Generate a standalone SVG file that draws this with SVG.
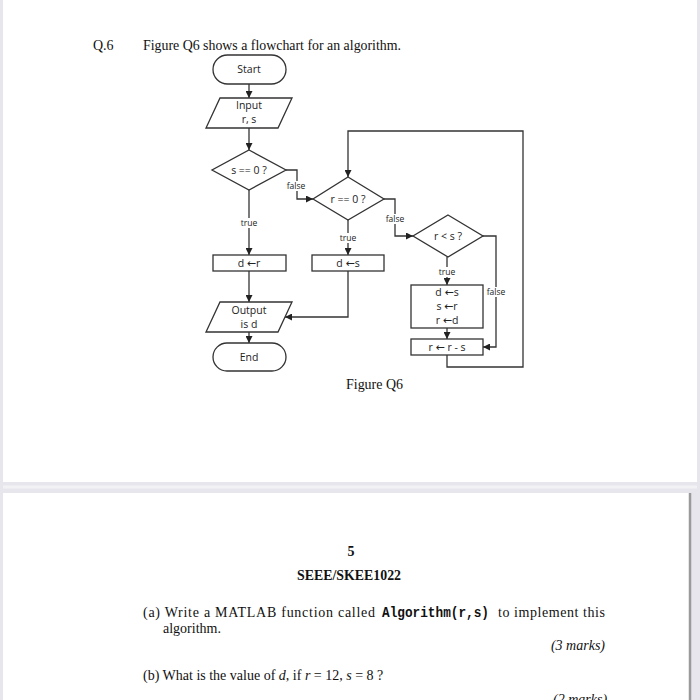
<svg xmlns="http://www.w3.org/2000/svg" width="700" height="700" viewBox="0 0 700 700">
<style>
.ln{fill:none;stroke:#333;stroke-width:1.3}
.sh{fill:#fff;stroke:#333;stroke-width:1.3}
.ft{font-family:"Open Sans","Liberation Sans","DejaVu Sans",sans-serif;font-size:10.5px;fill:#222;text-anchor:middle}
.ar{font-family:"DejaVu Sans",sans-serif;font-size:11px}
.lb{font-family:"Open Sans","Liberation Sans","DejaVu Sans",sans-serif;font-size:8.5px;fill:#222;text-anchor:middle}
.sf{font-family:"Liberation Serif","Times New Roman",serif;font-size:14px;fill:#111}
.mo{font-family:"Liberation Mono","DejaVu Sans Mono",monospace;font-weight:bold}
</style>
<defs>
<marker id="ah" viewBox="0 0 10 10" refX="10" refY="5" markerWidth="7" markerHeight="7" markerUnits="userSpaceOnUse" orient="auto"><path d="M0,0 L10,5 L0,10 z" fill="#222"/></marker>
</defs>
<rect x="0" y="0" width="700" height="700" fill="#e6e6ec"/>
<rect x="3" y="0" width="694" height="482" fill="#fff"/>
<rect x="3" y="493" width="688" height="207" fill="#fff"/>
<line x1="690" y1="493" x2="690" y2="700" stroke="#9a9a9a" stroke-width="2.5"/>
<line x1="3" y1="487" x2="697" y2="487" stroke="#f2f2f5" stroke-width="3"/>

<text class="sf" x="93" y="50">Q.6</text>
<text class="sf" x="143" y="50" textLength="258" lengthAdjust="spacingAndGlyphs">Figure Q6 shows a flowchart for an algorithm.</text>
<text class="sf" x="346" y="389" textLength="57" lengthAdjust="spacingAndGlyphs">Figure Q6</text>

<g id="connectors">
<line class="ln" x1="249" y1="84" x2="249" y2="98" marker-end="url(#ah)"/>
<line class="ln" x1="249" y1="128" x2="249" y2="150" marker-end="url(#ah)"/>
<polyline class="ln" points="286,170 297,170 297,199 313,199" marker-end="url(#ah)"/>
<line class="ln" x1="249" y1="190" x2="249" y2="255" marker-end="url(#ah)"/>
<line class="ln" x1="348" y1="219" x2="348" y2="255" marker-end="url(#ah)"/>
<polyline class="ln" points="384,199 395,199 395,236 413,236" marker-end="url(#ah)"/>
<line class="ln" x1="447" y1="257" x2="447" y2="285" marker-end="url(#ah)"/>
<polyline class="ln" points="483,236 496,236 496,347 483,347" marker-end="url(#ah)"/>
<line class="ln" x1="447" y1="328" x2="447" y2="339" marker-end="url(#ah)"/>
<polyline class="ln" points="447,355 447,367 523,367 523,131 348,131 348,177" marker-end="url(#ah)"/>
<line class="ln" x1="249" y1="271" x2="249" y2="302" marker-end="url(#ah)"/>
<polyline class="ln" points="348,271 348,317 285,317" marker-end="url(#ah)"/>
<line class="ln" x1="249" y1="332" x2="249" y2="343" marker-end="url(#ah)"/>
<rect x="284" y="181" width="24" height="10" fill="#fff"/>
<text class="lb" x="296" y="189">false</text>
<rect x="237" y="218" width="24" height="10" fill="#fff"/>
<text class="lb" x="249" y="226">true</text>
<rect x="336" y="233" width="24" height="10" fill="#fff"/>
<text class="lb" x="348" y="241">true</text>
<rect x="383" y="214" width="24" height="10" fill="#fff"/>
<text class="lb" x="395" y="222">false</text>
<rect x="435" y="267" width="24" height="10" fill="#fff"/>
<text class="lb" x="447" y="275">true</text>
<rect x="484" y="287" width="24" height="10" fill="#fff"/>
<text class="lb" x="496" y="295">false</text>
</g>

<g id="start">
<rect class="sh" x="213" y="55" width="73" height="29" rx="14.5"/>
<text class="ft" x="249" y="73">Start</text>
</g>
<g id="input">
<polygon class="sh" points="220,98 292,98 278,128 206,128"/>
<text class="ft" x="249" y="109">Input</text>
<text class="ft" x="249" y="123">r, s</text>
</g>
<g id="s_eq_0">
<polygon class="sh" points="249,150 286,170 249,190 212,170"/>
<text class="ft" x="249" y="174">s == 0 ?</text>
</g>
<g id="r_eq_0">
<polygon class="sh" points="348,177 384,199 348,220 313,199"/>
<text class="ft" x="348" y="203">r == 0 ?</text>
</g>
<g id="r_lt_s">
<polygon class="sh" points="448,215 483,236 448,257 413,236"/>
<text class="ft" x="448" y="240">r &lt; s ?</text>
</g>
<g id="d_gets_r">
<rect class="sh" x="213" y="255" width="73" height="16"/>
<text class="ft" x="249" y="267">d <tspan class="ar">←</tspan>r</text>
</g>
<g id="d_gets_s">
<rect class="sh" x="312" y="255" width="72" height="16"/>
<text class="ft" x="348" y="267">d <tspan class="ar">←</tspan>s</text>
</g>
<g id="swap">
<rect class="sh" x="411" y="285" width="72" height="43"/>
<text class="ft" x="447" y="296">d <tspan class="ar">←</tspan>s</text>
<text class="ft" x="447" y="310">s <tspan class="ar">←</tspan>r</text>
<text class="ft" x="447" y="324">r <tspan class="ar">←</tspan>d</text>
</g>
<g id="r_minus_s">
<rect class="sh" x="411" y="339" width="72" height="16"/>
<text class="ft" x="447" y="351">r <tspan class="ar">←</tspan> r - s</text>
</g>
<g id="output">
<polygon class="sh" points="220,302 292,302 278,332 206,332"/>
<text class="ft" x="249" y="314">Output</text>
<text class="ft" x="249" y="328">is d</text>
</g>
<g id="end">
<rect class="sh" x="213" y="343" width="73" height="28" rx="14"/>
<text class="ft" x="249" y="361">End</text>
</g>

<text class="sf" x="351" y="556" text-anchor="middle" font-weight="bold">5</text>
<text class="sf" x="297" y="580" font-weight="bold" textLength="104" lengthAdjust="spacingAndGlyphs">SEEE/SKEE1022</text>
<text class="sf" x="143" y="617" textLength="232" lengthAdjust="spacing">(a) Write a MATLAB function called</text>
<text class="sf mo" x="382" y="617" font-size="13" textLength="107" lengthAdjust="spacingAndGlyphs">Algorithm(r,s)</text>
<text class="sf" x="498" y="617" textLength="107" lengthAdjust="spacing">to implement this</text>
<text class="sf" x="163" y="633">algorithm.</text>
<text class="sf" x="605" y="650" text-anchor="end" font-style="italic">(3 marks)</text>
<text class="sf" x="143" y="680">(b) What is the value of <tspan font-style="italic">d</tspan>, if <tspan font-style="italic">r</tspan> = 12, <tspan font-style="italic">s</tspan> = 8 ?</text>
<text class="sf" x="553" y="704" font-style="italic">(2 marks)</text>
</svg>
